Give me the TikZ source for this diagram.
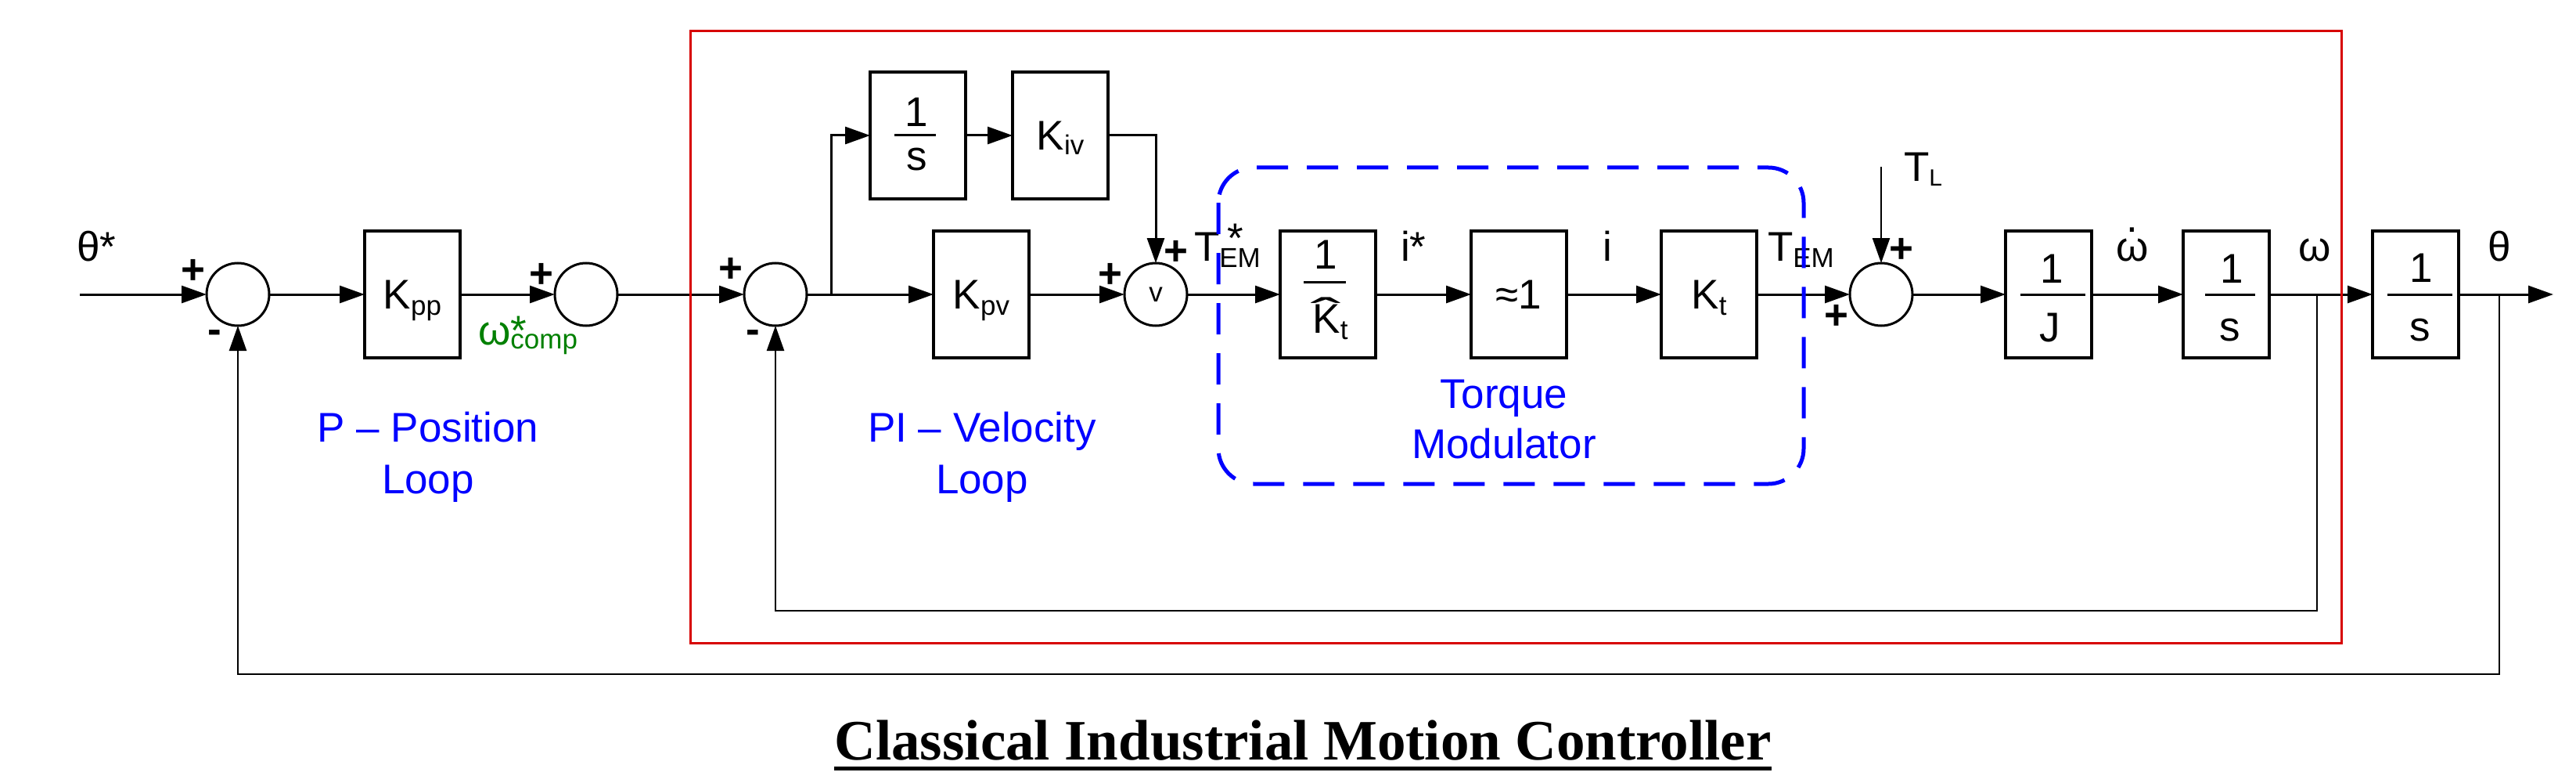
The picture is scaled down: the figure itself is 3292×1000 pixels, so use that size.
\documentclass[tikz,border=0pt]{standalone}
\usepackage{fontspec}
\setmainfont{Liberation Sans}
\newfontfamily\titlefont{Liberation Serif}
\usepackage{graphicx}
\usetikzlibrary{arrows.meta,calc}
\newcommand\fs[1]{\fontsize{#1}{#1}\selectfont}
\newcommand\sbs[2][8]{\raisebox{-#1pt}{\fs{35}#2}}
\newcommand\hatK{\ooalign{K\cr\hidewidth\raisebox{7pt}{\scalebox{2.2}[1]{ˆ}}\hidewidth\cr}}
\definecolor{boxred}{RGB}{215,0,0}
\definecolor{lblue}{RGB}{0,0,255}
\definecolor{lgreen}{RGB}{0,128,0}
\begin{document}
\begin{tikzpicture}[x=1pt,y=-1pt,
  blk/.style={draw,line width=3.5pt,minimum width=122pt,minimum height=162pt,inner sep=0pt,outer sep=0pt,font=\fs{53},text depth=0pt},
  blkn/.style={blk,minimum width=110pt},
  sm/.style={circle,draw,line width=3pt,minimum size=80pt,inner sep=0pt,outer sep=0pt,font=\fs{35},text depth=0pt},
  tip/.style={-{Triangle[length=32pt,width=22pt]}},
  sig/.style={line width=3pt,tip},
  fb/.style={line width=2.5pt},
  lbl/.style={inner sep=0pt,outer sep=0pt,font=\fs{53}},
  pm/.style={inner sep=0pt,outer sep=0pt,font=\fs{53}\bfseries},
  bar/.style={line width=3pt},
  loopl/.style={inner sep=0pt,align=center,font=\fontsize{53}{66}\selectfont,text=lblue}]
\useasboundingbox (0,0) rectangle (3292,1000);

% blocks
\node[sm] (s1) at (304,376) {};
\node[blk] (kpp) at (527,376) {K\sbs{pp}};
\node[sm] (s2) at (749,376) {};
\node[sm] (s3) at (991,376) {};
\node[blk] (int1) at (1173,173) {};
\node[blk] (kiv) at (1355,173) {K\sbs[6]{iv}};
\node[blk] (kpv) at (1254,376) {K\sbs{pv}};
\node[sm] (s4) at (1477,376) {v};
\node[blk] (kth) at (1697,376) {};
\node[blk] (one) at (1941,376) {≈1};
\node[blk] (kt) at (2184,376) {K\sbs{t}};
\node[sm] (s5) at (2404,376) {};
\node[blkn] (invj) at (2618,376) {};
\node[blkn] (int2) at (2845,376) {};
\node[blkn] (int3) at (3087,376) {};

% fractions
\node[lbl,anchor=base] (int1n) at (1171,162) {1};
\draw[bar] (1143,173) -- (1196,173);
\node[lbl,anchor=base] (int1d) at (1172,218) {s};

\node[lbl,anchor=base] (kthn) at (1694,343) {1};
\draw[bar] (1666,360) -- (1720,360);
\node[lbl,anchor=base] (kthd) at (1700,425) {\hatK\sbs{t}};

\node[lbl,anchor=base] (invjn) at (2622,361) {1};
\draw[bar] (2582,376) -- (2665,376);
\node[lbl,anchor=base] (invjd) at (2620,436) {J};

\node[lbl,anchor=base] (int2n) at (2852,361) {1};
\draw[bar] (2818,376) -- (2882,376);
\node[lbl,anchor=base] (int2d) at (2850,435) {s};

\node[lbl,anchor=base] (int3n) at (3094,360) {1};
\draw[bar] (3051,376) -- (3134,376);
\node[lbl,anchor=base] (int3d) at (3093,435) {s};

% free ends
\coordinate (in) at (102,376);
\coordinate (br1) at (1062,376);
\coordinate (tl) at (2404,213);
\coordinate (out) at (3263,376);
\coordinate (wb) at (2961,376);
\coordinate (wlow) at (2961,780);
\coordinate (tb) at (3194,376);
\coordinate (tlow) at (3194,861);

% connectors
\draw[sig] (in) -- (s1);
\draw[sig] (s1) -- (kpp);
\draw[sig] (kpp) -- (s2);
\draw[sig] (s2) -- (s3);
\draw[sig] (s3) -- (kpv);
\draw[sig] (br1) |- (int1.west);
\draw[sig] (int1) -- (kiv);
\draw[sig] (kiv.east) -| (s4.north);
\draw[sig] (kpv) -- (s4);
\draw[sig] (s4) -- (kth);
\draw[sig] (kth) -- (one);
\draw[sig] (one) -- (kt);
\draw[sig] (kt) -- (s5);
\draw[fb,tip] (tl) -- (s5.north);
\draw[sig] (s5) -- (invj);
\draw[sig] (invj) -- (int2);
\draw[sig] (int2) -- (int3);
\draw[sig] (int3) -- (out);
\draw[fb,tip] (wb) -- (wlow) -| (s3.south);
\draw[fb,tip] (tb) -- (tlow) -| (s1.south);

% signs
\node[pm] (p1) at (247,347) {+};
\node[pm] (m1) at (274,430) {-};
\node[pm] (p2) at (692,352) {+};
\node[pm] (p3) at (934,345) {+};
\node[pm] (m3) at (962,430) {-};
\node[pm] (p4a) at (1419,352) {+};
\node[pm] (p4b) at (1503,323) {+};
\node[pm] (p5a) at (2430,320) {+};
\node[pm] (p5b) at (2347,405) {+};

% signal labels
\node[lbl,anchor=base west] (thref) at (98,333) {θ*};
\node[lbl,anchor=base west,text=lgreen] (wcomp) at (611,440) {ω\rlap{*}\sbs[5]{comp}};
\node[lbl,anchor=base west] (tem1) at (1526,333) {T\rlap{\hspace{10pt}\raisebox{10pt}{*}}\sbs{EM}};
\node[lbl,anchor=base west] (istar) at (1790,333) {i*};
\node[lbl,anchor=base] (ilab) at (2054,333) {i};
\node[lbl,anchor=base west] (tem2) at (2259,333) {T\sbs{EM}};
\node[lbl,anchor=base west] (tlab) at (2433,232) {T\raisebox{-6pt}{\fs{30}L}};
\node[lbl,anchor=base] (wdot) at (2725,333) {\ooalign{ω\cr\hidewidth\raisebox{36pt}{.}\hidewidth\cr}};
\node[lbl,anchor=base] (wlab) at (2958,333) {ω};
\node[lbl,anchor=base] (thlab) at (3194,333) {θ};

% loop labels
\node[loopl] (ploop) at (547,584) {P – Position\\Loop};
\node[loopl] (piloop) at (1255,584) {PI – Velocity\\Loop};
\node[loopl,font=\fontsize{53}{64}\selectfont] (tmod) at (1922,536) {Torque\\Modulator};

% frames
\draw[lblue,line width=5pt,dash pattern=on 40pt off 24pt,rounded corners=45pt] (1557,214) rectangle (2305,618);
\draw[boxred,line width=3pt] (882,40) rectangle (2992,821);

% title
\node[inner sep=0pt,anchor=base,font=\titlefont\bfseries\fs{73}] (title) at (1665,970) {Classical Industrial Motion Controller};
\draw[line width=5pt] ($(title.base west)+(0,11)$) -- ($(title.base east)+(0,11)$);
\end{tikzpicture}
\end{document}
